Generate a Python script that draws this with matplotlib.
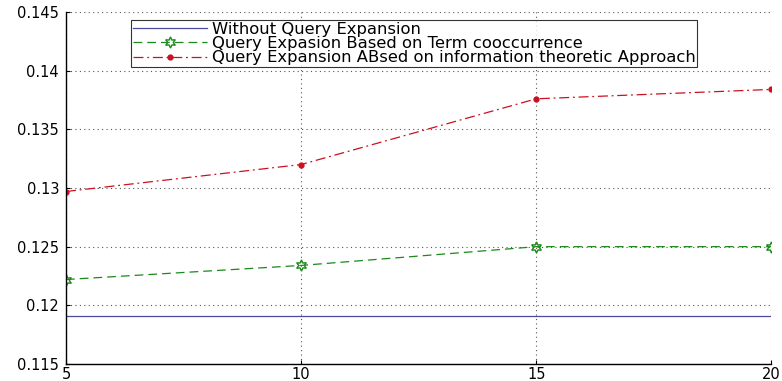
import matplotlib
matplotlib.use("Agg")
import matplotlib.pyplot as plt

# terms added to the query
x_terms = [5, 10, 15, 20]

baseline = [0.1191, 0.1191, 0.1191, 0.1191]
cooccurrence = [0.1222, 0.1234, 0.1250, 0.1250]
info_theoretic = [0.1297, 0.1320, 0.1376, 0.1384]

labels = [
    "Without Query Expansion",
    "Query Expasion Based on Term cooccurrence",
    "Query Expansion ABsed on information theoretic Approach",
]

y_ticks = [0.115, 0.12, 0.125, 0.13, 0.135, 0.14, 0.145]
y_tick_labels = ["0.115", "0.12", "0.125", "0.13", "0.135", "0.14", "0.145"]


def main():
    plt.rcParams["font.family"] = ["DejaVu Sans"]
    fig = plt.figure(figsize=(7.82, 3.81), dpi=100)
    ax = fig.add_axes([0.0844, 0.0446, 0.902, 0.924])

    ax.plot(x_terms, baseline, color="#4a4a9e", linewidth=0.9, label=labels[0])
    ax.plot(x_terms, cooccurrence, color="#1a8a1a", linestyle="--", linewidth=0.9,
            dashes=(7, 4), marker=(6, 1, 0), markersize=8, markerfacecolor="none",
            markeredgecolor="#1a8a1a", markeredgewidth=1.0, label=labels[1])
    ax.plot(x_terms, info_theoretic, color="#cc1020", linestyle="-.", linewidth=0.9,
            dashes=(8, 3, 1.5, 3), marker=".", markersize=7, label=labels[2])

    ax.set_xlim(5, 20)
    ax.set_ylim(0.115, 0.145)
    ax.set_xticks(x_terms)
    ax.set_yticks(y_ticks)
    ax.set_yticklabels(y_tick_labels)
    ax.tick_params(direction="in", length=3, labelsize=10.5, colors="black")
    ax.tick_params(axis="x", pad=2)
    ax.tick_params(axis="y", pad=5)
    ax.grid(True, linestyle=(0, (1, 3)), color="#555555", linewidth=0.8)

    ax.spines["top"].set_visible(False)
    ax.spines["right"].set_visible(False)
    for side in ["left", "bottom"]:
        ax.spines[side].set_linewidth(1.0)
        ax.spines[side].set_color("black")

    leg = ax.legend(loc="upper left", bbox_to_anchor=(0.092, 0.977), fontsize=11.8,
                    frameon=True, fancybox=False, edgecolor="black",
                    labelspacing=-0.05, borderpad=0.12, handlelength=4.5,
                    handletextpad=0.3, borderaxespad=0)
    leg.get_frame().set_linewidth(0.8)

    fig.savefig("out.png", dpi=100)


if __name__ == "__main__":
    main()
